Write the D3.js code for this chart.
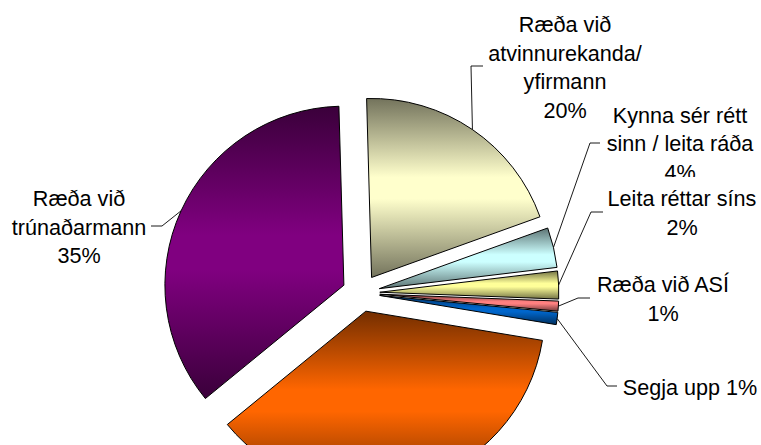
<!DOCTYPE html>
<html><head><meta charset="utf-8">
<script src="https://cdn.jsdelivr.net/npm/d3@7"></script>
<style>html,body{margin:0;padding:0;background:#fff;overflow:hidden}svg{display:block}
text{font-family:"Liberation Sans",Arial,sans-serif;font-size:21.6px;fill:#000;text-anchor:middle}</style>
</head><body><svg width="761" height="445"></svg>
<script>
const categories = ["Ræða við atvinnurekanda/ yfirmann","Kynna sér rétt sinn / leita ráða","Leita réttar síns","Ræða við ASÍ","Segja upp","Annað","Ræða við trúnaðarmann"];
const values = [19.9,3.6,2.5,0.9,1.1,36.4,35.4];
const baseColors = ["#ffffcc","#ccffff","#ffff99","#ff8080","#0066cc","#ff6600","#800080"];
const labelLines = [["Ræða við","atvinnurekanda/","yfirmann","20%"],["Kynna sér rétt","sinn / leita ráða","4%"],["Leita réttar síns","2%"],["Ræða við ASÍ","1%"],["Segja upp 1%"],[],["Ræða við","trúnaðarmann","35%"]];
const labelX = [565,680,682,663,690,0,79];
const labelY = [32,122.5,206,292,395,0,206];
const leaderElbow = [[471,66,483,66],[590,143,600,143],[591,212,603,212],[578,298,590,298],[607,386,617,386],null,[162,226,151,226]];

const svg = d3.select("svg");
const cx = 361, cy = 293, R = 179, explode = 18.8;
const rad = d => d*Math.PI/180;
const pie = d3.pie().sort(null).startAngle(rad(-1.6)).endAngle(rad(358.4));
const arcs = pie(values);
const arc = d3.arc().innerRadius(0).outerRadius(R);
const defs = svg.append("defs");
baseColors.forEach((c,i)=>{
  const dark = d3.interpolateRgb(c,"#000")(0.55);
  const g = defs.append("linearGradient").attr("id","g"+i).attr("x1",0).attr("y1",0).attr("x2",0).attr("y2",1);
  g.append("stop").attr("offset",0).attr("stop-color",dark);
  g.append("stop").attr("offset",0.44).attr("stop-color",c);
  g.append("stop").attr("offset",0.56).attr("stop-color",c);
  g.append("stop").attr("offset",1).attr("stop-color",dark);
});
const off = d => { const m=(d.startAngle+d.endAngle)/2; return [explode*Math.sin(m), -explode*Math.cos(m)]; };
const root = svg.append("g").attr("transform",`translate(${cx},${cy})`);
root.selectAll("path").data(arcs).join("path")
  .attr("transform",d=>`translate(${off(d)})`)
  .attr("d",arc)
  .attr("fill",(d,i)=>`url(#g${i})`)
  .attr("stroke","#000").attr("stroke-width",1);

// leader lines start on the slice's outer edge
arcs.forEach((d,i)=>{
  const e = leaderElbow[i]; if(!e) return;
  const m=(d.startAngle+d.endAngle)/2, r=R+explode;
  const sx=cx+r*Math.sin(m), sy=cy-r*Math.cos(m);
  svg.append("path").attr("fill","none").attr("stroke","#000").attr("stroke-width",0.9)
    .attr("d",`M${sx},${sy}L${e[0]},${e[1]}L${e[2]},${e[3]}`);
});
const lh = 28.6;
labelLines.forEach((ls,i)=>{
  ls.forEach((t,j)=>{
    svg.append("text").attr("x",labelX[i]).attr("y",labelY[i]+j*lh).text(t);
  });
  if(i===1) svg.append("rect").attr("x",600).attr("y",177).attr("width",161).attr("height",12).attr("fill","#fff");
});
</script></body></html>
